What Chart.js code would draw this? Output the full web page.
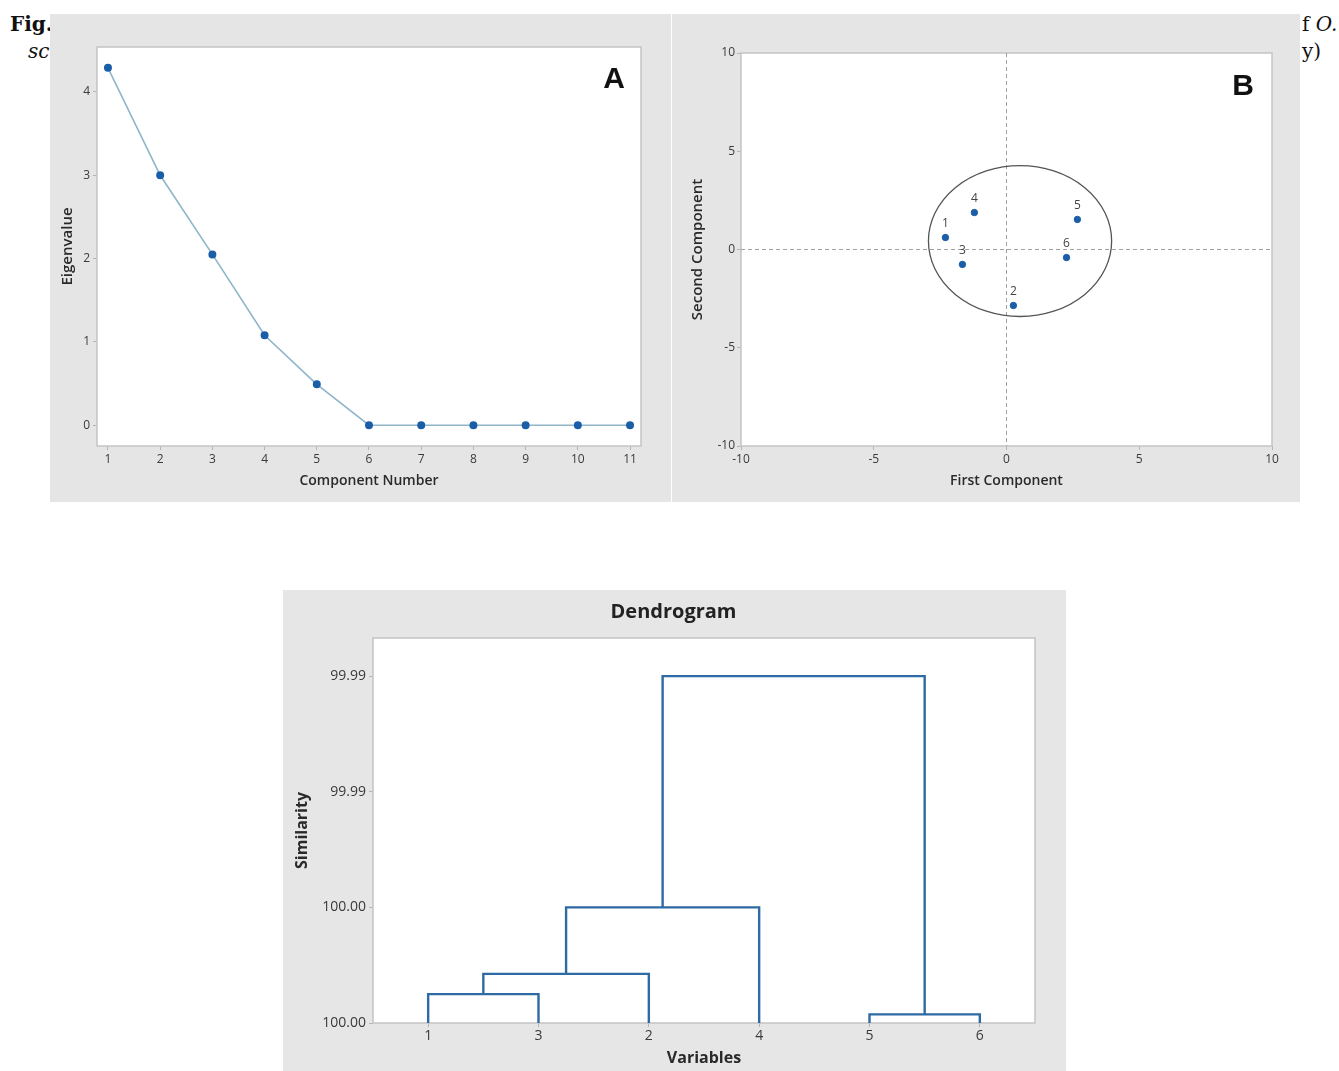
<!DOCTYPE html>
<html>
<head>
<meta charset="utf-8">
<script src="https://cdn.jsdelivr.net/npm/chart.js@4.4.1/dist/chart.umd.min.js"></script>
<style>
    body { margin: 0; background: #fff; width: 1339px; height: 1071px; position: relative; overflow: hidden; }
    .cap { position: absolute; font-family: "DejaVu Serif", "Liberation Serif", serif; font-size: 20px; color: #111; }
    .panel { position: absolute; background: #e5e5e5; }
    #panelA { left: 50px; top: 14px; width: 621px; height: 488px; }
    #panelB { left: 672px; top: 14px; width: 628px; height: 488px; }
    #panelD { left: 283px; top: 590px; width: 783px; height: 481px; background: #e6e6e6; }
</style>
</head>
<body>
<div class="cap" style="left:10px; top:12px; font-weight:bold;">Fig.</div>
<div class="cap" style="left:28px; top:39px; font-style:italic;">sc</div>
<div class="cap" style="left:1302px; top:12px;">f <i>O.</i></div>
<div class="cap" style="left:1302px; top:39px;">y)</div>

<div class="panel" id="panelA"><canvas id="chartA" width="621" height="488"></canvas></div>
<div class="panel" id="panelB"><canvas id="chartB" width="628" height="488"></canvas></div>
<div class="panel" id="panelD"><canvas id="chartD" width="783" height="481"></canvas></div>

<script>
// --- A: scree plot
const componentNumbers = [1, 2, 3, 4, 5, 6, 7, 8, 9, 10, 11];
const eigenvalues = [4.29, 3.00, 2.05, 1.08, 0.49, 0, 0, 0, 0, 0, 0];
const screeXTicks = [1, 2, 3, 4, 5, 6, 7, 8, 9, 10, 11];
const screeYTicks = [0, 1, 2, 3, 4];

// --- B: score plot
const scoreLabels = ['1', '2', '3', '4', '5', '6'];
const firstComponent = [-2.30, 0.26, -1.66, -1.21, 2.67, 2.26];
const secondComponent = [0.61, -2.85, -0.76, 1.88, 1.53, -0.41];
const scoreTicks = [-10, -5, 0, 5, 10];
const ellipseCenter = [0.51, 0.43];
const ellipseRadii = [3.45, 3.84];

// --- Dendrogram
const leafOrder = ['1', '3', '2', '4', '5', '6'];
const mergeLeft = ['1', 'm1', 'm2', '5', 'm3'];
const mergeRight = ['3', '2', '4', '6', 'm4'];
const mergeSimilarity = [99.9990, 99.9983, 99.9960, 99.9997, 99.9880];
const similarityTicks = [99.988, 99.992, 99.996, 100.0];

const BLUE = '#1b5ea8';
const TICK_COLOR = '#3a3a3a';
const TITLE_COLOR = '#2a2a2a';
const GRID = { drawOnChartArea: false, drawTicks: true, tickLength: 4, color: '#b5b5b5' };

function fixedTicks(values) {
    return scale => { scale.ticks = values.map(v => ({ value: v })); };
}

const plotFrame = {
    id: 'plotFrame',
    beforeDraw(chart) {
        const { ctx, chartArea: a } = chart;
        ctx.save();
        ctx.fillStyle = '#fff';
        ctx.fillRect(a.left, a.top, a.right - a.left, a.bottom - a.top);
        ctx.restore();
    },
    beforeDatasetsDraw(chart) {
        const { ctx, chartArea: a } = chart;
        ctx.save();
        ctx.strokeStyle = '#c4c4c4';
        ctx.lineWidth = 1.5;
        ctx.strokeRect(a.left, a.top, a.right - a.left, a.bottom - a.top);
        ctx.restore();
    }
};

function panelLetter(letter, dx, dy) {
    return {
        id: 'letter' + letter,
        afterDraw(chart) {
            const { ctx, chartArea: a } = chart;
            ctx.save();
            ctx.font = 'bold 30px "Liberation Sans", Arial, sans-serif';
            ctx.fillStyle = '#111';
            ctx.textAlign = 'center';
            ctx.textBaseline = 'middle';
            ctx.fillText(letter, a.right - dx, a.top + dy);
            ctx.restore();
        }
    };
}

const tickFont = { family: 'Open Sans', size: 12 };
const xTitleFont = { family: 'Open Sans', size: 14, weight: '600' };
const yTitleFont = { family: 'Open Sans', size: 15, weight: '600' };

// ---------- Chart A
new Chart(document.getElementById('chartA'), {
    type: 'line',
    data: {
        datasets: [{
            data: componentNumbers.map((c, i) => ({ x: c, y: eigenvalues[i] })),
            borderColor: '#8fb5c9',
            borderWidth: 1.6,
            pointBackgroundColor: BLUE,
            pointBorderColor: BLUE,
            pointRadius: 3.2,
            tension: 0
        }]
    },
    options: {
        responsive: false,
        animation: false,
        layout: { padding: { top: 33, right: 30, left: 0, bottom: 0 } },
        plugins: { legend: { display: false }, tooltip: { enabled: false } },
        scales: {
            x: {
                type: 'linear', min: 0.79, max: 11.21,
                afterBuildTicks: fixedTicks(screeXTicks),
                afterFit: s => { s.height = 56; },
                grid: GRID, border: { display: false },
                ticks: { color: TICK_COLOR, padding: 2, font: tickFont },
                title: { display: true, text: 'Component Number', color: TITLE_COLOR,
                    padding: { top: 0, bottom: 12.6 }, font: xTitleFont }
            },
            y: {
                min: -0.25, max: 4.54,
                afterBuildTicks: fixedTicks(screeYTicks),
                afterFit: s => { s.width = 47; },
                grid: GRID, border: { display: false },
                ticks: { color: TICK_COLOR, padding: 3, font: tickFont },
                title: { display: true, text: 'Eigenvalue', color: TITLE_COLOR,
                    padding: { top: 9, bottom: 0 }, font: yTitleFont }
            }
        }
    },
    plugins: [plotFrame, panelLetter('A', 27, 33)]
});

// ---------- Chart B
const scoreExtras = {
    id: 'scoreExtras',
    beforeDatasetsDraw(chart) {
        const { ctx, chartArea: a, scales: { x, y } } = chart;
        const x0 = x.getPixelForValue(0), y0 = y.getPixelForValue(0);
        ctx.save();
        ctx.strokeStyle = '#a0a0a0';
        ctx.lineWidth = 1;
        ctx.setLineDash([4, 3]);
        ctx.beginPath();
        ctx.moveTo(x0, a.top); ctx.lineTo(x0, a.bottom);
        ctx.moveTo(a.left, y0); ctx.lineTo(a.right, y0);
        ctx.stroke();
        ctx.setLineDash([]);
        const cx = x.getPixelForValue(ellipseCenter[0]);
        const cy = y.getPixelForValue(ellipseCenter[1]);
        const rx = Math.abs(x.getPixelForValue(ellipseCenter[0] + ellipseRadii[0]) - cx);
        const ry = Math.abs(y.getPixelForValue(ellipseCenter[1] + ellipseRadii[1]) - cy);
        ctx.strokeStyle = '#555';
        ctx.lineWidth = 1.3;
        ctx.beginPath();
        ctx.ellipse(cx, cy, rx, ry, 0, 0, Math.PI * 2);
        ctx.stroke();
        ctx.restore();
    },
    afterDatasetsDraw(chart) {
        const { ctx } = chart;
        const meta = chart.getDatasetMeta(0);
        ctx.save();
        ctx.font = '12px "Open Sans"';
        ctx.fillStyle = '#444';
        ctx.textAlign = 'center';
        ctx.textBaseline = 'middle';
        meta.data.forEach((pt, i) => {
            ctx.fillText(scoreLabels[i], pt.x, pt.y - 14);
        });
        ctx.restore();
    }
};

new Chart(document.getElementById('chartB'), {
    type: 'scatter',
    data: {
        datasets: [{
            data: firstComponent.map((v, i) => ({ x: v, y: secondComponent[i] })),
            pointBackgroundColor: BLUE,
            pointBorderColor: BLUE,
            pointRadius: 3.2
        }]
    },
    options: {
        responsive: false,
        animation: false,
        layout: { padding: { top: 39, right: 28, left: 0, bottom: 0 } },
        plugins: { legend: { display: false }, tooltip: { enabled: false } },
        scales: {
            x: {
                type: 'linear', min: -10, max: 10,
                afterBuildTicks: fixedTicks(scoreTicks),
                afterFit: s => { s.height = 56; },
                grid: GRID, border: { display: false },
                ticks: { color: TICK_COLOR, padding: 2, font: tickFont },
                title: { display: true, text: 'First Component', color: TITLE_COLOR,
                    padding: { top: 0, bottom: 12.6 }, font: xTitleFont }
            },
            y: {
                min: -10, max: 10,
                afterBuildTicks: fixedTicks(scoreTicks),
                afterFit: s => { s.width = 69; },
                grid: GRID, border: { display: false },
                ticks: { color: TICK_COLOR, padding: 2, font: tickFont },
                title: { display: true, text: 'Second Component', color: TITLE_COLOR,
                    padding: { top: 17, bottom: 0 }, font: yTitleFont }
            }
        }
    },
    plugins: [plotFrame, scoreExtras, panelLetter('B', 29, 34)]
});

// ---------- Dendrogram
const nodes = {};
leafOrder.forEach((name, i) => { nodes[name] = { x: i, y: 100 }; });
const linkSets = mergeLeft.map((l, i) => {
    const a = nodes[l], b = nodes[mergeRight[i]], h = mergeSimilarity[i];
    nodes['m' + (i + 1)] = { x: (a.x + b.x) / 2, y: h };
    return {
        data: [{ x: a.x, y: a.y }, { x: a.x, y: h }, { x: b.x, y: h }, { x: b.x, y: b.y }],
        borderColor: '#2e6aa3',
        borderWidth: 2.4,
        pointRadius: 0,
        tension: 0,
        fill: false
    };
});

const dendroTitle = {
    id: 'dendroTitle',
    afterDraw(chart) {
        const { ctx, width } = chart;
        ctx.save();
        ctx.font = 'bold 20px "Open Sans"';
        ctx.fillStyle = '#222';
        ctx.textAlign = 'center';
        ctx.textBaseline = 'middle';
        ctx.fillText('Dendrogram', width / 2 - 1, 22);
        ctx.restore();
    }
};

new Chart(document.getElementById('chartD'), {
    type: 'line',
    data: { datasets: linkSets },
    options: {
        responsive: false,
        animation: false,
        layout: { padding: { top: 48, right: 31, left: 0, bottom: 0 } },
        plugins: { legend: { display: false }, tooltip: { enabled: false } },
        scales: {
            x: {
                type: 'linear', min: -0.5, max: 5.5,
                afterBuildTicks: fixedTicks(leafOrder.map((_, i) => i)),
                afterFit: s => { s.height = 48; },
                grid: GRID, border: { display: false },
                ticks: { color: TICK_COLOR, padding: 1, font: { family: 'Open Sans', size: 14 },
                    callback: v => leafOrder[v] },
                title: { display: true, text: 'Variables', color: TITLE_COLOR,
                    padding: { top: 0, bottom: 3.4 }, font: { family: 'Open Sans', size: 16, weight: 'bold' } }
            },
            y: {
                reverse: true, min: 99.98668, max: 100.0,
                afterBuildTicks: fixedTicks(similarityTicks),
                afterFit: s => { s.width = 90; },
                grid: GRID, border: { display: false },
                ticks: { color: TICK_COLOR, padding: 3, font: { family: 'Open Sans', size: 14 },
                    callback: v => v.toFixed(2) },
                title: { display: true, text: 'Similarity', color: TITLE_COLOR,
                    padding: { top: 9.4, bottom: 0 }, font: { family: 'Open Sans', size: 16, weight: 'bold' } }
            }
        }
    },
    plugins: [plotFrame, dendroTitle]
});
</script>
</body>
</html>
